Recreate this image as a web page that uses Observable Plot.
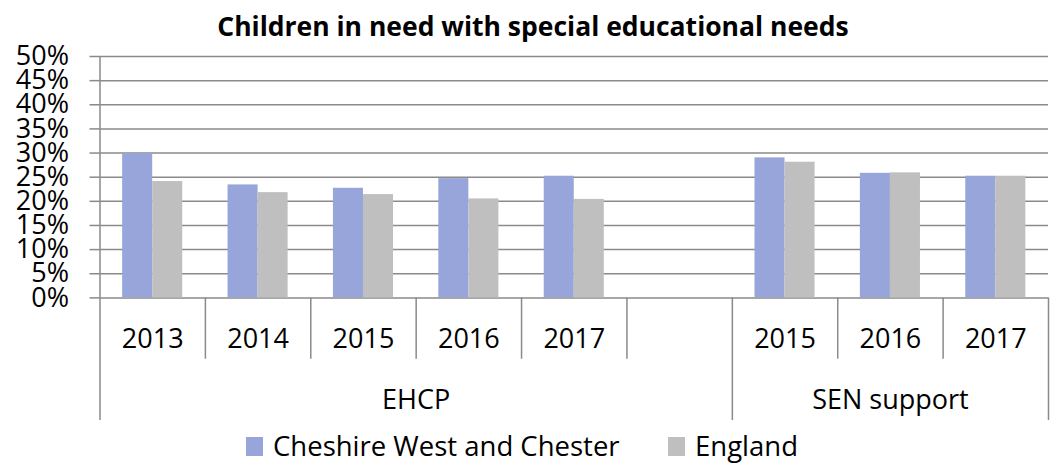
<!DOCTYPE html>
<html>
<head>
<meta charset="utf-8">
<script src="https://cdn.jsdelivr.net/npm/d3@7"></script>
<script src="https://cdn.jsdelivr.net/npm/@observablehq/plot@0.6"></script>
<style>
  body { margin: 0; background: #fff; font-family: "Open Sans", sans-serif; width: 1058px; }
  #title { height: 36px; line-height: 52px; text-align: center; font-weight: bold; font-size: 26.5px; padding-left: 8px; color: #000; white-space: nowrap; }
  #legend { position: relative; height: 43px; font-size: 27.5px; color: #000; }
  .sw { position: absolute; top: 11px; width: 17px; height: 19px; }
  .lt { position: absolute; top: 0; line-height: 39px; white-space: nowrap; }
</style>
</head>
<body>
<div id="title">Children in need with special educational needs</div>
<div id="chart"></div>
<div id="legend"></div>
<script>
// ---- data ----
const groups = ["EHCP", "EHCP", "EHCP", "EHCP", "EHCP", "SEN support", "SEN support", "SEN support"];
const years = ["2013", "2014", "2015", "2016", "2017", "2015", "2016", "2017"];
const cheshire = [0.299, 0.234, 0.227, 0.247, 0.252, 0.290, 0.258, 0.252];
const england = [0.241, 0.218, 0.214, 0.205, 0.204, 0.281, 0.259, 0.252];
const seriesNames = ["Cheshire West and Chester", "England"];
const seriesColors = ["#97A5DA", "#BFBFBF"];
const yTicks = [0, 0.05, 0.10, 0.15, 0.20, 0.25, 0.30, 0.35, 0.40, 0.45, 0.50];

// ---- layout helpers (slot index, with an empty slot between groups) ----
const groupNames = [...new Set(groups)];
const slotOf = groups.map((g, i) => i + groupNames.indexOf(g));
const nSlots = slotOf[slotOf.length - 1] + 1;
const groupSpans = groupNames.map((g, k) => {
  const first = groups.indexOf(g);
  const start = k === 0 ? 0 : slotOf[first];
  const end = k === groupNames.length - 1 ? nSlots : slotOf[groups.indexOf(groupNames[k + 1])];
  return {name: g, start, end, mid: (start + end) / 2};
});

const gap = 0.215; // empty share at each side of a bar pair
const bars = [];
years.forEach((y, i) => {
  bars.push({series: seriesNames[0], x1: slotOf[i] + gap, x2: slotOf[i] + 0.5, value: cheshire[i]});
  bars.push({series: seriesNames[1], x1: slotOf[i] + 0.5, x2: slotOf[i] + 1 - gap, value: england[i]});
});
const yearLabels = years.map((y, i) => ({x: slotOf[i] + 0.5, label: y}));
const innerSeps = d3.range(1, nSlots).filter(b => !groupSpans.some(s => s.start === b));
const outerSeps = [...new Set(groupSpans.flatMap(s => [s.start, s.end]))];

const grey = "#8A8A8A";
const yearRowBottom = -0.127;
const groupRowBottom = -0.254;

const chart = Plot.plot({
  width: 1058,
  height: 390,
  marginTop: 20,
  marginBottom: 6,
  marginLeft: 99.5,
  marginRight: 10,
  style: {fontFamily: "Open Sans", background: "white"},
  x: {domain: [0, nSlots], axis: null},
  y: {domain: [groupRowBottom, 0.5], axis: null},
  color: {domain: seriesNames, range: seriesColors},
  marks: [
    Plot.ruleY(yTicks, {x1: 0, x2: nSlots, stroke: grey, strokeWidth: 1.5}),
    Plot.rectY(bars, {x1: "x1", x2: "x2", y1: 0, y2: "value", fill: "series"}),
    Plot.axisY({ticks: yTicks, anchor: "left", tickSize: 10, tickPadding: 21, tickFormat: d3.format(".0%"),
      fontSize: 27, stroke: grey, strokeWidth: 1.5, fill: "black", label: null}),
    Plot.ruleX(innerSeps, {y1: 0, y2: yearRowBottom, stroke: grey, strokeWidth: 1.5}),
    Plot.ruleX(outerSeps, {x: d => d, y1: d => d === 0 ? 0.5 : 0, y2: groupRowBottom, stroke: grey, strokeWidth: 1.5}),
    Plot.text(yearLabels, {x: "x", y: -0.086, text: "label", fontSize: 27, fill: "black"}),
    Plot.text(groupSpans, {x: "mid", y: -0.2125, text: "name", fontSize: 27, fill: "black"})
  ]
});
document.getElementById("chart").appendChild(chart);

const legend = document.getElementById("legend");
const legendLeft = [246, 668];
seriesNames.forEach((s, i) => {
  const sw = document.createElement("span");
  sw.className = "sw";
  sw.style.left = legendLeft[i] + "px";
  sw.style.background = seriesColors[i];
  const t = document.createElement("span");
  t.className = "lt";
  t.style.left = (legendLeft[i] + 27) + "px";
  t.textContent = s;
  legend.appendChild(sw);
  legend.appendChild(t);
});
</script>
</body>
</html>
